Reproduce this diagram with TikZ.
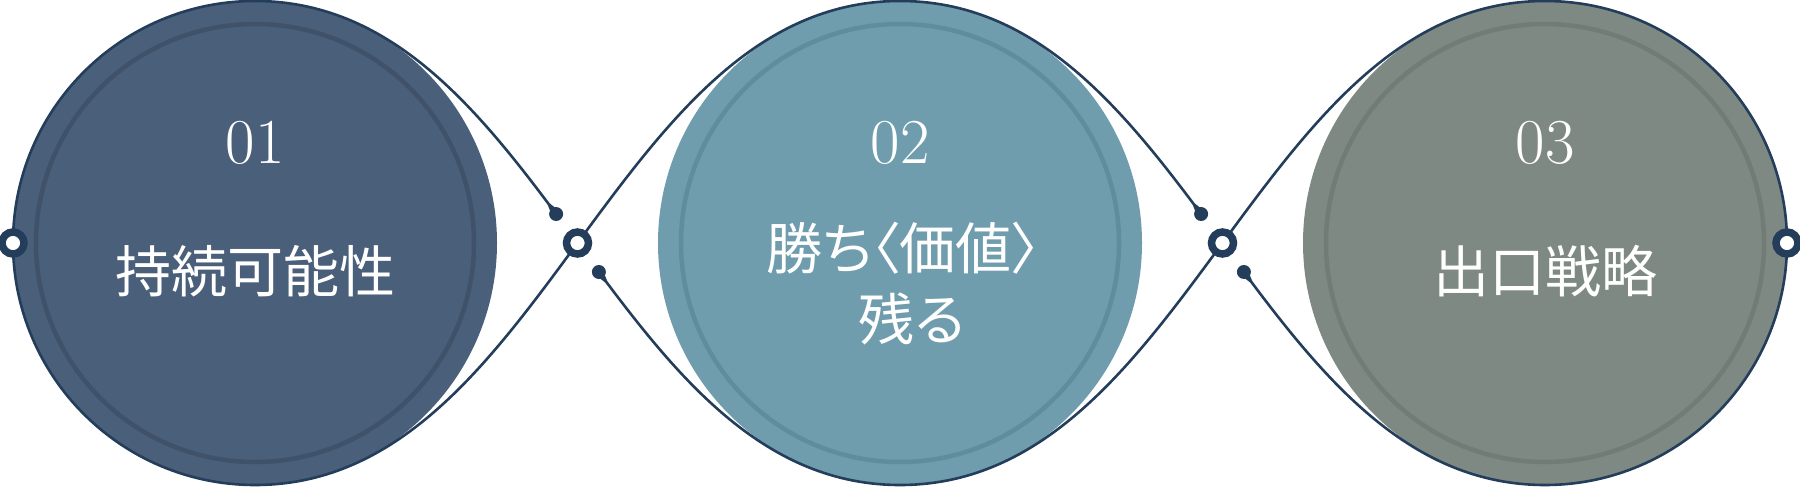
\documentclass[tikz,border=0pt]{standalone}
\usepackage{fontspec}
\newfontfamily\jp{Noto Sans CJK JP}
\newfontfamily\jpp[RawFeature=+palt]{Noto Sans CJK JP}
\usetikzlibrary{calc}
\definecolor{navy}{HTML}{233D5B}
\definecolor{fillA}{HTML}{4A5F7A}
\definecolor{ringA}{HTML}{405269}
\definecolor{fillB}{HTML}{6F9DAD}
\definecolor{ringB}{HTML}{5F8D9E}
\definecolor{fillC}{HTML}{7F8983}
\definecolor{ringC}{HTML}{727C77}
\tikzset{
  disc/.style={circle, minimum size=484pt, inner sep=0pt, outer sep=0pt, draw=none},
  ringline/.style={line width=4.5pt},
  wave/.style={draw=navy, line width=2.6pt},
  hub/.style={circle, draw=navy, line width=7.5pt, fill=white, minimum size=22pt, inner sep=0pt},
  numtxt/.style={text=white, anchor=base, inner sep=0pt, font=\fontsize{64}{64}\selectfont},
  titletxt/.style={text=white, anchor=base, inner sep=0pt, font=\jp\fontsize{56}{56}\selectfont},
  titletxtp/.style={text=white, anchor=base, inner sep=0pt, font=\jpp\fontsize{56}{56}\selectfont}
}
\newcommand\tdrop[2]{%
  \fill[navy] (#1) circle (7);
  \fill[navy] ($(#2)!1.3pt!90:(#1)$) -- ($(#1)!4.5pt!-90:(#2)$) -- ($(#1)!4.5pt!90:(#2)$) -- ($(#2)!1.3pt!-90:(#1)$) -- cycle;
}
\begin{document}
\begin{tikzpicture}[x=1pt,y=-1pt]
\useasboundingbox (0,0) rectangle (1800,487);
% discs
\node[disc, fill=fillA] (c1) at (255,243) {};
\node[disc, fill=fillB] (c2) at (900,243) {};
\node[disc, fill=fillC] (c3) at (1545,243) {};
\draw[ringline, draw=ringA] (c1.center) circle (219);
\draw[ringline, draw=ringB] (c2.center) circle (219);
\draw[ringline, draw=ringC] (c3.center) circle (219);
% teardrop coordinates
\coordinate (t1a) at (556.11,214.02);
\coordinate (t1ab) at (548.95,204.39);
\coordinate (t1b) at (598.89,271.98);
\coordinate (t1bb) at (606.05,281.61);
\coordinate (t2a) at (1201.11,214.02);
\coordinate (t2ab) at (1193.95,204.39);
\coordinate (t2b) at (1243.89,271.98);
\coordinate (t2bb) at (1251.05,281.61);
% outer arcs
\draw[wave] (c1.north) arc[start angle=270, end angle=90, radius=242];
\draw[wave] (c3.north) arc[start angle=270, end angle=450, radius=242];
% full waves
\draw[wave] (c1.south) .. controls +(289,0) and +(-289,0) .. (c2.north);
\draw[wave] (c2.south) .. controls +(289,0) and +(-289,0) .. (c3.north);
% split waves
\draw[wave] (c1.north) .. controls +(132.94,0) and +(-82.21,-110.61) .. (t1a);
\draw[wave] (t1b) .. controls +(82.21,110.61) and +(-132.94,0) .. (c2.south);
\draw[wave] (c2.north) .. controls +(132.94,0) and +(-82.21,-110.61) .. (t2a);
\draw[wave] (t2b) .. controls +(82.21,110.61) and +(-132.94,0) .. (c3.south);
\tdrop{t1a}{t1ab}
\tdrop{t1b}{t1bb}
\tdrop{t2a}{t2ab}
\tdrop{t2b}{t2bb}
% hubs
\node[hub] (h0) at (13,243) {};
\node[hub] (h1) at (577.5,243) {};
\node[hub] (h2) at (1222.5,243) {};
\node[hub] (h3) at (1787,243) {};
% texts
\node[numtxt] (n1) at (255,163) {01};
\node[numtxt] (n2) at (900,163) {02};
\node[numtxt] (n3) at (1545,163) {03};
\node[titletxt] (l1) at (255,292) {持続可能性};
\node[titletxtp] (l2a) at (903,269) {勝ち〈価値〉};
\node[titletxtp] (l2b) at (912,340) {残る};
\node[titletxt] (l3) at (1545,292) {出口戦略};
\end{tikzpicture}
\end{document}
